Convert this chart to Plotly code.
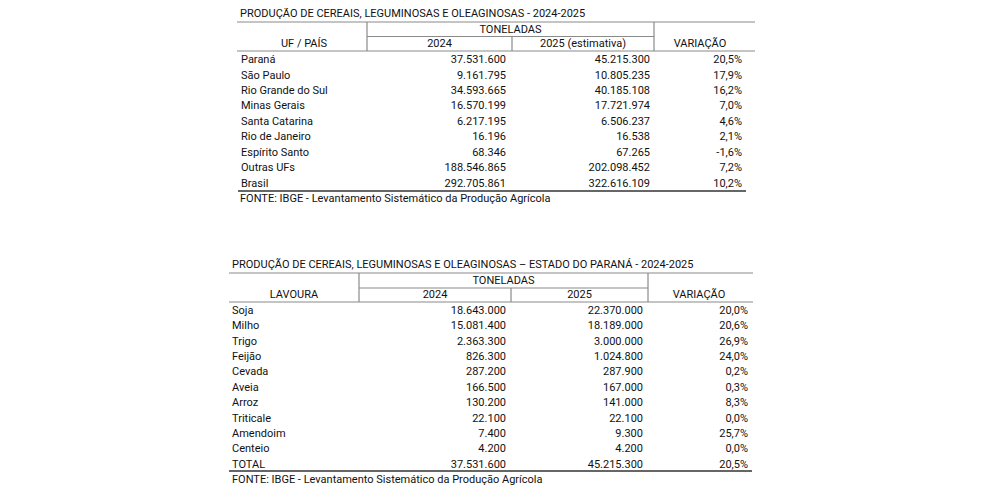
import plotly.graph_objects as go

# ---------------- DATA ----------------
title_uf = "PRODUÇÃO DE CEREAIS, LEGUMINOSAS E OLEAGINOSAS - 2024-2025"
header_uf = ["UF / PAÍS", "2024", "2025 (estimativa)", "VARIAÇÃO"]
uf_names = ["Paraná", "São Paulo", "Rio Grande do Sul", "Minas Gerais", "Santa Catarina",
            "Rio de Janeiro", "Espírito Santo", "Outras UFs", "Brasil"]
uf_2024 = [37531600, 9161795, 34593665, 16570199, 6217195, 16196, 68346, 188546865, 292705861]
uf_2025 = [45215300, 10805235, 40185108, 17721974, 6506237, 16538, 67265, 202098452, 322616109]
uf_var = [20.5, 17.9, 16.2, 7.0, 4.6, 2.1, -1.6, 7.2, 10.2]

title_pr = "PRODUÇÃO DE CEREAIS, LEGUMINOSAS E OLEAGINOSAS – ESTADO DO PARANÁ - 2024-2025"
header_pr = ["LAVOURA", "2024", "2025", "VARIAÇÃO"]
crops = ["Soja", "Milho", "Trigo", "Feijão", "Cevada", "Aveia", "Arroz", "Triticale",
         "Amendoim", "Centeio", "TOTAL"]
pr_2024 = [18643000, 15081400, 2363300, 826300, 287200, 166500, 130200, 22100, 7400, 4200, 37531600]
pr_2025 = [22370000, 18189000, 3000000, 1024800, 287900, 167000, 141000, 22100, 9300, 4200, 45215300]
pr_var = [20.0, 20.6, 26.9, 24.0, 0.2, 0.3, 8.3, 0.0, 25.7, 0.0, 20.5]

group_label = "TONELADAS"
source = "FONTE: IBGE - Levantamento Sistemático da Produção Agrícola"

# ---------------- STYLE / LAYOUT ----------------
FONT = "Roboto"
FS = 11
TXT = "#111111"
GRID = "#8a8a8a"
DARK = "#333333"
PAGE_OFFSET = 8  # default body margin of the html page


def fmt_int(v):
    return f"{v:,}".replace(",", ".")


def fmt_pct(v):
    return f"{v:.1f}%".replace(".", ",")


fig = go.Figure()


def text_trace(xs, ys, texts, pos):
    fig.add_trace(go.Scatter(x=xs, y=ys, text=texts, mode="text", textposition=pos,
                             textfont=dict(family=FONT, size=FS, color=TXT),
                             cliponaxis=False, hoverinfo="skip", showlegend=False))


def hline(x0, x1, y, color=GRID, w=1.2):
    fig.add_shape(type="line", xref="x", yref="y", x0=x0, x1=x1, y0=y, y1=y,
                  line=dict(color=color, width=w))


def vline(x, y0, y1):
    fig.add_shape(type="line", xref="x", yref="y", x0=x, x1=x, y0=y0, y1=y1,
                  line=dict(color=GRID, width=1.2))


def draw_table(geo, title, headers, labels, v24, v25, var):
    L, R = geo["L"], geo["R"]
    c1, c2, c3 = geo["cols"]
    top, mid, hb = geo["top"], geo["mid"], geo["hb"]
    text_trace([geo["tx"]], [geo["ty"]], [title], "middle right")
    hline(L, R, top)
    hline(c1, c3, mid)
    hline(L, R, hb)
    vline(c1, top, hb)
    vline(c2, mid, hb)
    vline(c3, top, hb)
    text_trace([(c1 + c3) / 2], [(top + mid) / 2 + 0.5], [group_label], "middle center")
    hy = (mid + hb) / 2 + 0.5
    text_trace([geo["hc"][0], (c1 + c2) / 2, (c2 + c3) / 2, geo["hc"][1]], [hy] * 4,
               headers, "middle center")
    ys = [geo["y0"] + i * geo["dy"] for i in range(len(labels))]
    text_trace([geo["lx"]] * len(labels), ys, labels, "middle right")
    text_trace([geo["r1"]] * len(labels), ys, [fmt_int(v) for v in v24], "middle left")
    text_trace([geo["r2"]] * len(labels), ys, [fmt_int(v) for v in v25], "middle left")
    text_trace([geo["r3"]] * len(labels), ys, [fmt_pct(v) for v in var], "middle left")
    hline(geo["LB"], geo["RB"], geo["bot"], color=DARK, w=1.4)
    text_trace([geo["tx"]], [geo["sy"]], [source], "middle right")


geo_uf = dict(L=237, R=755, LB=238, RB=746, cols=(367, 512, 654), top=22, mid=36.5, hb=51,
              tx=240, ty=14, hc=(304, 700), y0=60.3, dy=15.45, lx=241,
              r1=506, r2=650, r3=742, bot=191, sy=199)
geo_pr = dict(L=229, R=753, LB=229, RB=752, cols=(359, 511, 648), top=273, mid=288, hb=302,
              tx=232, ty=265, hc=(294, 699), y0=311, dy=15.4, lx=232,
              r1=506, r2=643, r3=748, bot=471, sy=480)

draw_table(geo_uf, title_uf, header_uf, uf_names, uf_2024, uf_2025, uf_var)
draw_table(geo_pr, title_pr, header_pr, crops, pr_2024, pr_2025, pr_var)

fig.update_layout(
    width=1000, height=500,
    margin=dict(l=0, r=0, t=0, b=0),
    paper_bgcolor="white", plot_bgcolor="white",
    xaxis=dict(range=[PAGE_OFFSET, 1000 + PAGE_OFFSET], visible=False, fixedrange=True),
    yaxis=dict(range=[500 + PAGE_OFFSET, PAGE_OFFSET], visible=False, fixedrange=True),
    showlegend=False,
)

fig.write_html("out.html")
